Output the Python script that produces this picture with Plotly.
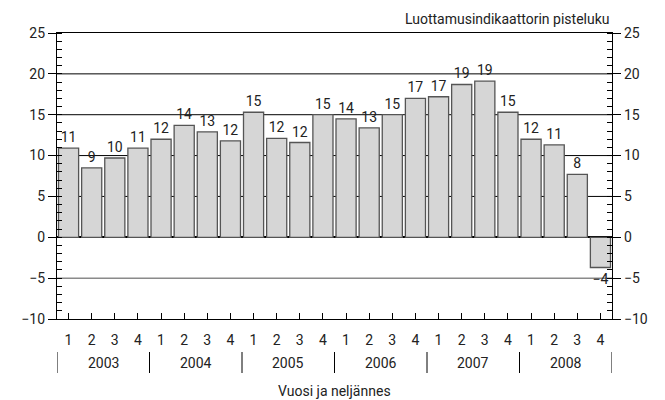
import plotly.graph_objects as go

years = ["2003", "2004", "2005", "2006", "2007", "2008"]
quarters = ["1", "2", "3", "4"]
values = [10.9, 8.5, 9.7, 10.9, 12.0, 13.7, 12.9, 11.8,
          15.3, 12.1, 11.6, 15.0, 14.5, 13.4, 15.0, 17.0,
          17.2, 18.7, 19.1, 15.3, 12.0, 11.3, 7.7, -3.7]
labels = ["11", "9", "10", "11", "12", "14", "13", "12",
          "15", "12", "12", "15", "14", "13", "15", "17",
          "17", "19", "19", "15", "12", "11", "8", "\u22124"]
y_ticks = [-10, -5, 0, 5, 10, 15, 20, 25]
y_ticktext = ["\u221210", "\u22125", "0", "5", "10", "15", "20", "25"]
title_text = "Luottamusindikaattorin pisteluku"
x_title = "Vuosi ja nelj\u00e4nnes"

FONT = "Roboto"
n = len(values)
xs = list(range(n))
qlabels = [quarters[i % 4] for i in range(n)]

fig = go.Figure()
fig.add_trace(go.Bar(
    x=xs, y=values, text=labels, textposition="outside",
    textfont=dict(family=FONT, size=14, color="#222"),
    marker=dict(color="#d6d6d6", line=dict(color="#555555", width=1.3)),
    cliponaxis=False, width=0.87, showlegend=False, hoverinfo="skip",
))

axis_font = dict(family=FONT, size=14, color="#222")
yaxis_common = dict(
    range=[-10, 25], tickmode="array", tickvals=y_ticks, ticktext=y_ticktext,
    ticks="outside", ticklen=8, tickcolor="black", tickwidth=1,
    minor=dict(dtick=1, tick0=0, ticks="inside", ticklen=5, tickcolor="black", tickwidth=1),
    showline=True, linecolor="black", linewidth=1.2,
    tickfont=axis_font, fixedrange=True, automargin=False, showgrid=False,
)
W, HT = 657, 392
ML, MR, MT, MB = 49, 53, 25, 81
fig.update_layout(
    width=W, height=HT,
    margin=dict(l=ML, r=MR, t=MT, b=MB),
    paper_bgcolor="white", plot_bgcolor="white",
    font=dict(family=FONT, size=14, color="#222"),
    bargap=0.13,
    xaxis=dict(
        range=[-0.5, n - 0.5], tickmode="array", tickvals=xs, ticktext=qlabels,
        ticks="inside", ticklen=6, tickcolor="black", tickwidth=1,
        showline=True, linecolor="black", linewidth=1.2, mirror=True,
        showgrid=False, zeroline=False, tickfont=axis_font,
        ticklabelstandoff=8, automargin=False,
    ),
    yaxis=dict(**yaxis_common, zeroline=True, zerolinecolor="black", zerolinewidth=2),
    yaxis2=dict(**yaxis_common, overlaying="y", side="right", anchor="x", zeroline=False),
)

fig.add_trace(go.Scatter(x=[None], y=[None], yaxis="y2", showlegend=False, hoverinfo="skip"))

# horizontal grid lines (grey at -5)
for v in y_ticks:
    if v in (-10, 0, 25):
        continue
    col = "#8a8a8a" if v < 0 else "black"
    w = 1.5 if v < 0 else 1
    fig.add_shape(type="line", xref="paper", yref="y", x0=0, x1=1, y0=v, y1=v,
                  line=dict(color=col, width=w), layer="below")

PH = HT - MT - MB
BOTTOM = 8 + HT - MB  # window pixel of plot bottom (page has 8px body margin)
def py(px):
    return (BOTTOM - px) / PH

for i, yr in enumerate(years):
    fig.add_annotation(x=4 * i + 1.5, xref="x", y=py(363), yref="paper",
                       text=yr, showarrow=False, font=axis_font, yanchor="middle")
for i in range(len(years) + 1):
    fig.add_shape(type="line", xref="x", yref="paper", x0=4 * i - 0.5, x1=4 * i - 0.5,
                  y0=py(352), y1=py(373), line=dict(color="black", width=1))

fig.add_annotation(x=0.5, xref="paper", y=py(391), yref="paper", text=x_title,
                   showarrow=False, font=axis_font, yanchor="middle")
fig.add_annotation(x=1, xref="paper", xanchor="right", y=1, yref="paper", yanchor="bottom",
                   yshift=4, text=title_text, showarrow=False, font=axis_font)

fig.write_html("out.html")
